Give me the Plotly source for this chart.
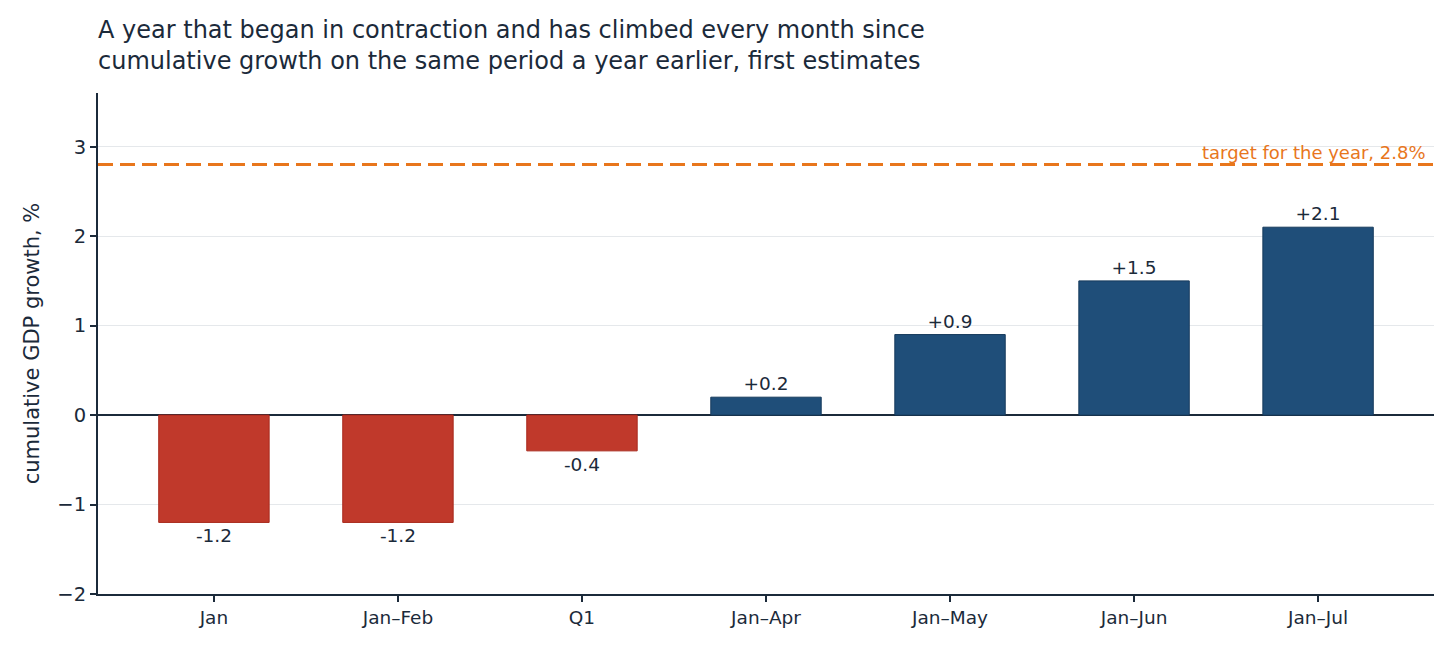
import plotly.graph_objects as go

periods = ["Jan", "Jan–Feb", "Q1", "Jan–Apr", "Jan–May", "Jan–Jun", "Jan–Jul"]
growth = [-1.2, -1.2, -0.4, 0.2, 0.9, 1.5, 2.1]
target = 2.8

ink = "#1b2a3a"
red = "#c0392b"
blue = "#1f4e79"
orange = "#e8761c"

colors = [red if v < 0 else blue for v in growth]
edges = ["#a8281c" if v < 0 else "#163a5c" for v in growth]
labels = [f"{v:+.1f}" for v in growth]

fig = go.Figure()
fig.add_trace(go.Bar(
    x=periods,
    y=growth,
    width=0.6,
    marker=dict(color=colors, line=dict(color=edges, width=1)),
    text=labels,
    textposition="outside",
    textfont=dict(size=18.5, color=ink),
    cliponaxis=False,
    hoverinfo="skip",
))

fig.add_hline(y=target, line=dict(color=orange, width=3, dash="15px,7px"))
fig.add_annotation(
    x=1, xref="paper", y=target, yref="y",
    text=f"target for the year, {target}%",
    showarrow=False, xanchor="right", yanchor="bottom",
    xshift=-6, yshift=0, font=dict(size=18, color=orange),
)

# the page body adds an 8px margin, so the figure is sized to fit inside it
fig.update_layout(
    title=dict(
        text="A year that began in contraction and has climbed every month since<br>"
             "cumulative growth on the same period a year earlier, first estimates",
        x=90 / 1448, xanchor="left", y=0.953, yanchor="top",
        font=dict(size=24, color=ink),
    ),
    font=dict(family="DejaVu Sans", color=ink),
    plot_bgcolor="white",
    paper_bgcolor="white",
    showlegend=False,
    width=1448, height=644,
    margin=dict(l=90, r=22, t=85, b=58),
)

fig.update_xaxes(
    range=[-0.63, 6.63],
    showline=True, linecolor=ink, linewidth=2,
    ticks="outside", ticklen=6, tickcolor=ink, tickwidth=2,
    tickfont=dict(size=18.5, color=ink),
    showgrid=False,
)
fig.update_yaxes(
    range=[-2, 3.6],
    tickvals=[-2, -1, 0, 1, 2, 3],
    ticktext=["−2", "−1", "0", "1", "2", "3"],
    showline=True, linecolor=ink, linewidth=2,
    ticks="outside", ticklen=6, tickcolor=ink, tickwidth=2,
    tickfont=dict(size=19.5, color=ink),
    showgrid=True, gridcolor="#e5e8eb", gridwidth=1,
    zeroline=True, zerolinecolor=ink, zerolinewidth=1.5,
    title=dict(text="cumulative GDP growth, %", font=dict(size=21, color=ink), standoff=12),
)

fig.write_html("out.html")
